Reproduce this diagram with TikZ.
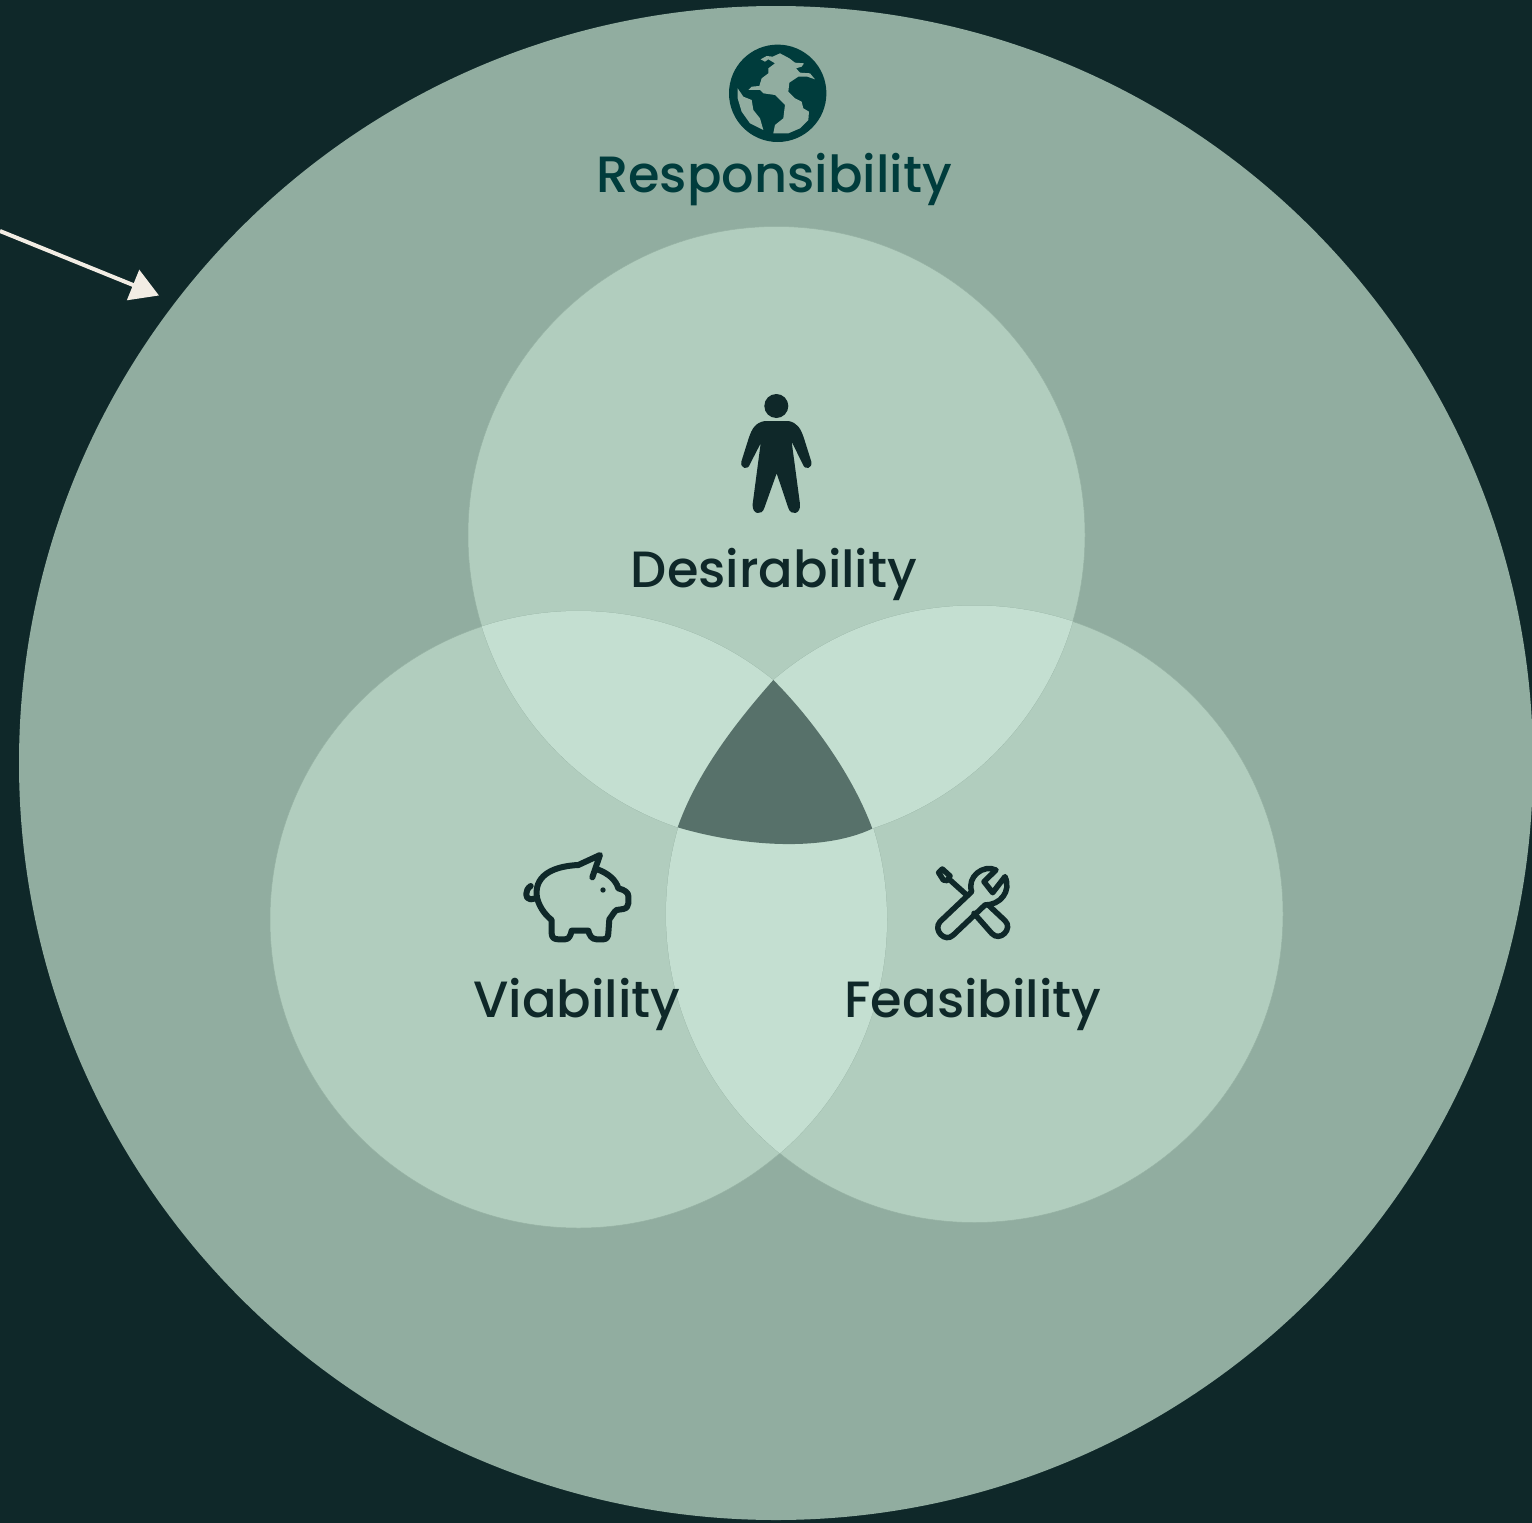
\documentclass[tikz,border=0pt]{standalone}
\usepackage{fontspec}
\setmainfont{Poppins Medium}
\usetikzlibrary{arrows.meta}
\definecolor{bgc}{HTML}{0F2829}
\definecolor{outerc}{HTML}{91ADA0}
\definecolor{onec}{HTML}{B1CDBE}
\definecolor{twoc}{HTML}{C4DFD1}
\definecolor{threec}{HTML}{57716A}
\definecolor{tealc}{HTML}{003C3C}
\definecolor{creamc}{HTML}{F2EDE4}
\tikzset{
  label text/.style={text=bgc,inner sep=0pt,anchor=base,font=\fontsize{51}{60}\selectfont},
  icon line/.style={draw=bgc,line width=6pt,line join=round,line cap=round},
  tool line/.style={draw=bgc,line width=5.5pt,line join=round,line cap=round},
  edge ring/.style={draw=outerc!85!onec,line width=0.5pt}
}
\newcommand{\cD}{(776.5,535) circle [radius=308.5]}
\newcommand{\cV}{(578.5,919.5) circle [radius=308.5]}
\newcommand{\cF}{(974.5,914) circle [radius=308.5]}
\begin{document}
\begin{tikzpicture}[x=1pt,y=-1pt]
\useasboundingbox (0,0) rectangle (1532,1523);
\fill[bgc] (0,0) rectangle (1532,1523);
\fill[outerc] (776,763) circle [radius=757];
\fill[onec] \cD; \fill[onec] \cV; \fill[onec] \cF;
\draw[edge ring] \cD; \draw[edge ring] \cV; \draw[edge ring] \cF;
\begin{scope}\clip \cD; \fill[twoc] \cV; \fill[twoc] \cF;\end{scope}
\begin{scope}\clip \cV; \fill[twoc] \cF;\end{scope}
% centre
\begin{scope}[shift={(640,640)},x=0.3333pt,y=-0.3333pt]
\fill[threec] (400,120) .. controls (285,250) and (170,400) .. (113,562) .. controls (290,615) and (540,640) .. (697,566) .. controls (640,410) and (520,240) .. (400,120) -- cycle;
\end{scope}
% labels
\node[label text,text=tealc,font=\fontsize{51}{60}\selectfont] (resp) at (774,192) {Responsibility};
\node[label text] (des) at (774,587) {Desirability};
\node[label text] (via) at (577,1017) {Viability};
\node[label text] (fea) at (973,1017) {Feasibility};
% arrow
\coordinate (arrowstart) at (0,231);
\coordinate (arrowend) at (159,295.5);
\draw[creamc,line width=4pt,-{Triangle[length=28pt,width=32pt,fill=creamc]}] (arrowstart) -- (arrowend);
% globe
\fill[tealc] (777.7,93.3) circle [radius=48.7];
\begin{scope}[shift={(700,30)},x=0.3333pt,y=-0.3333pt]
\fill[outerc] (182,88)--(200,78)--(218,80)--(240,70)--(268,85)--(285,98)--(312,100)--(305,110)--(288,115)--(300,128)--(330,130)--(345,148)--(322,140)--(295,140)--(268,158)--(265,185)--(285,205)--(305,215)--(310,235)--(327,245)--(325,270)--(300,295)--(265,310)--(220,310)--(225,285)--(250,265)--(255,225)--(225,195)--(190,190)--(180,180)--(145,180)--(155,170)--(178,168)--(185,145)--(205,130)--(205,115)--(225,100)--(205,88)--(195,95)--cycle;
\fill[outerc] (113,175)--(130,200)--(155,210)--(160,240)--(180,265)--(190,300)--(150,280)--(125,245)--(113,205)--cycle;
\end{scope}
% person
\fill[bgc] (776.3,406) circle [radius=12];
\begin{scope}[shift={(710,380)},x=0.3333pt,y=-0.3333pt]
\fill[bgc] (165,123) -- (235,123) .. controls (262,128) and (272,145) .. (282,175) -- (304,245) .. controls (308,266) and (284,272) .. (278,252) -- (245,185) -- (270,372) .. controls (273,404) and (242,408) .. (235,384) -- (200,280) -- (163,384) .. controls (156,408) and (125,404) .. (128,372) -- (152,190) -- (120,252) .. controls (114,272) and (90,266) .. (94,245) -- (116,175) .. controls (126,145) and (136,128) .. (165,123) -- cycle;
\end{scope}
% pig
\begin{scope}[shift={(510,840)},x=0.3333pt,y=-0.3333pt]
\draw[icon line] (62,138) .. controls (44,150) and (44,178) .. (62,178) -- (78,175);
\draw[icon line] (247,112) -- (270,45) -- (205,75) .. controls (140,78) and (75,100) .. (80,165) .. controls (83,195) and (105,225) .. (125,240) -- (125,280) .. controls (125,292) and (132,298) .. (145,298) -- (165,298) .. controls (178,298) and (182,285) .. (185,272) -- (235,272) .. controls (238,285) and (245,298) .. (260,298) -- (280,298) .. controls (290,298) and (295,290) .. (295,280) -- (298,238) .. controls (308,225) and (312,215) .. (320,210) -- (340,207) .. controls (350,205) and (355,198) .. (355,190) -- (355,168) .. controls (355,158) and (345,150) .. (325,145) .. controls (318,120) and (295,100) .. (262,88);
\fill[bgc] (279,150) circle [radius=2.7pt];
\end{scope}
% tools
\begin{scope}[shift={(920,850)},x=0.3333pt,y=-0.3333pt]
\draw[tool line] (155,125) -- (60,215) .. controls (38,240) and (75,280) .. (100,255) -- (195,165) .. controls (240,165) and (275,125) .. (255,80) -- (218,128) -- (192,95) -- (228,60) .. controls (190,42) and (140,80) .. (155,125) -- cycle;
\draw[tool line] (56,68) -- (67,57) -- (90,78) -- (82,92) -- (70,90) -- cycle;
\draw[tool line] (90,90) -- (140,135);
\draw[tool line] (162,190) -- (215,250) .. controls (240,278) and (280,235) .. (255,212) -- (205,165);
\end{scope}
\end{tikzpicture}
\end{document}
